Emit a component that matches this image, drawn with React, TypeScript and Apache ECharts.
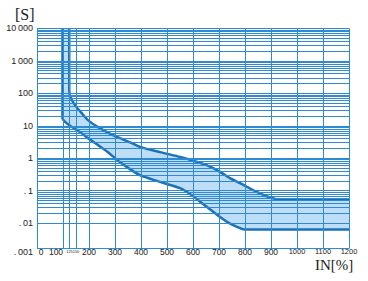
import React, { useEffect, useRef } from 'react';
import * as echarts from 'echarts';

// ---- data ----
const xTicks = [0, 100, 200, 300, 400, 500, 600, 700, 800, 900, 1000, 1100, 1200];
const extraXLines = [125, 150];
const extraXLabels = ['125', '150'];
const yDecades = [0.001, 0.01, 0.1, 1, 10, 100, 1000, 10000];
const yTickLabels = ['.\u2009001', '.\u200901', '.\u20091', '1', '10', '100', '1\u2009000', '10\u2009000'];
const minorMultipliers = [1, 2, 3, 4, 5, 6, 7, 8, 9];
const yVisibleMin = 0.00166;

// upper (slow) tripping curve
const upperX = [124, 124, 127, 146, 172, 196, 235, 292, 319, 365, 396, 473, 550, 595, 653, 704, 742, 781, 845, 896, 935, 1200];
const upperY = [10000, 130, 85, 43, 24.5, 14.9, 9.1, 5.15, 4.16, 2.92, 2.24, 1.54, 1.1, 0.87, 0.61, 0.38, 0.244, 0.171, 0.092, 0.062, 0.054, 0.054];
// lower (fast) tripping curve
const lowerX = [98, 98, 108, 133, 172, 196, 235, 273, 319, 396, 473, 550, 595, 653, 704, 742, 800, 1200];
const lowerY = [10000, 16.8, 13.2, 9.3, 5.9, 4.16, 2.53, 1.54, 0.76, 0.3, 0.187, 0.12, 0.073, 0.032, 0.0156, 0.0098, 0.0064, 0.0064];

const axisText = '#222222';
const gridColor = '#2f8acf';
const curveColor = '#1a72b8';
const sansFont = 'Liberation Sans, Arial, sans-serif';
const serifFont = 'Liberation Serif, Times New Roman, serif';

export default function App() {
  const ref = useRef<HTMLDivElement>(null);

  useEffect(() => {
    if (!ref.current) return;
    const chart = echarts.init(ref.current, undefined, { renderer: 'svg' });

    const upper = upperX.map((x, i) => [x, upperY[i]]);
    const lower = lowerX.map((x, i) => [x, lowerY[i]]);

    const hLines: any[] = [];
    yDecades.forEach((d) => {
      if (d >= 10000) return;
      minorMultipliers.forEach((m) => {
        const v = d * m;
        if (v >= yVisibleMin) hLines.push({ yAxis: v });
      });
    });
    hLines.push({ yAxis: 10000 });
    const vLines: any[] = [...xTicks, ...extraXLines].map((x) => [
      { coord: [x, yVisibleMin] },
      { coord: [x, 10000] },
    ]);
    const bottomLine = [[{ coord: [0, yVisibleMin] }, { coord: [1200, yVisibleMin] }]];

    const labelOf = (val: number) => {
      const idx = yDecades.findIndex((d) => Math.abs(Math.log10(val) - Math.log10(d)) < 1e-6);
      if (idx < 0) return '';
      if (idx === 0) return '{lo|' + yTickLabels[idx] + '}';
      return yTickLabels[idx];
    };

    chart.setOption({
      animation: false,
      backgroundColor: '#ffffff',
      grid: { left: 37, right: 19, top: 28.3, bottom: 25.3, containLabel: false },
      xAxis: {
        type: 'value',
        min: 0,
        max: 1200,
        interval: 100,
        axisLine: { show: false },
        axisTick: { show: false },
        splitLine: { show: false },
        axisLabel: {
          margin: -4,
          verticalAlign: 'middle',
          color: axisText,
          fontFamily: sansFont,
          fontSize: 8.5,
          formatter: (v: number) => {
            if (v === 0) return '{z|0}';
            if (v === 100) return '{h|100}';
            if (v >= 1000) return '{s|' + v + '}';
            return String(v);
          },
          rich: {
            z: { color: axisText, fontFamily: sansFont, fontSize: 8.5, padding: [0, 0, 0, 8] },
            h: { color: axisText, fontFamily: sansFont, fontSize: 8.5, padding: [0, 14, 0, 0] },
            s: { color: axisText, fontFamily: sansFont, fontSize: 7.5 },
          },
        },
      },
      yAxis: {
        type: 'log',
        logBase: 10,
        min: 0.001,
        max: 10000,
        splitNumber: 7,
        axisLine: { show: false },
        axisTick: { show: false },
        splitLine: { show: false },
        minorSplitLine: { show: false },
        axisLabel: {
          margin: 4,
          color: axisText,
          fontFamily: sansFont,
          fontSize: 9,
          formatter: labelOf,
          rich: {
            lo: { color: axisText, fontFamily: sansFont, fontSize: 9, padding: [0, 0, 8, 0] },
          },
        },
      },
      series: [
        {
          name: 'grid',
          type: 'line',
          z: 1,
          data: [],
          silent: true,
          markLine: {
            silent: true,
            symbol: ['none', 'none'],
            label: { show: false },
            lineStyle: { color: gridColor, width: 1, type: 'solid', opacity: 1 },
            data: [...hLines, ...vLines, ...bottomLine],
          },
        },
        {
          name: 'band',
          type: 'custom',
          z: 2,
          silent: true,
          data: [0],
          renderItem: (params: any, api: any) => {
            const pts = [
              ...upper.map((p) => api.coord(p)),
              ...lower.slice().reverse().map((p) => api.coord(p)),
            ];
            return {
              type: 'polygon',
              shape: { points: pts },
              style: { fill: '#86c3ee', opacity: 0.55 },
            };
          },
        },
        {
          name: 'upper',
          type: 'line',
          z: 3,
          data: upper,
          smooth: 0.2,
          symbol: 'none',
          lineStyle: { color: curveColor, width: 2.5 },
        },
        {
          name: 'lower',
          type: 'line',
          z: 3,
          data: lower,
          smooth: 0.2,
          symbol: 'none',
          lineStyle: { color: curveColor, width: 2.5 },
        },
      ],
    });

    const graphics: any[] = [
      {
        type: 'text',
        left: 15,
        top: 6,
        style: { text: '[S]', font: '16px ' + serifFont, fill: '#222' },
      },
      {
        type: 'text',
        left: 315,
        top: 257,
        style: { text: 'IN[%]', font: '15px ' + serifFont, fill: '#222' },
      },
    ];
    extraXLines.forEach((x, i) => {
      const p = chart.convertToPixel({ gridIndex: 0 }, [x, 0.001]) as number[];
      graphics.push({
        type: 'text',
        x: p[0],
        y: p[1] - 4,
        style: {
          text: extraXLabels[i],
          font: '4px ' + sansFont,
          fill: '#222',
          align: 'center',
          verticalAlign: 'middle',
        },
      });
    });
    chart.setOption({ graphic: graphics });

    return () => chart.dispose();
  }, []);

  return (
    <div
      ref={ref}
      style={{ position: 'fixed', left: 0, top: 0, width: 368, height: 281, background: '#fff' }}
    />
  );
}
